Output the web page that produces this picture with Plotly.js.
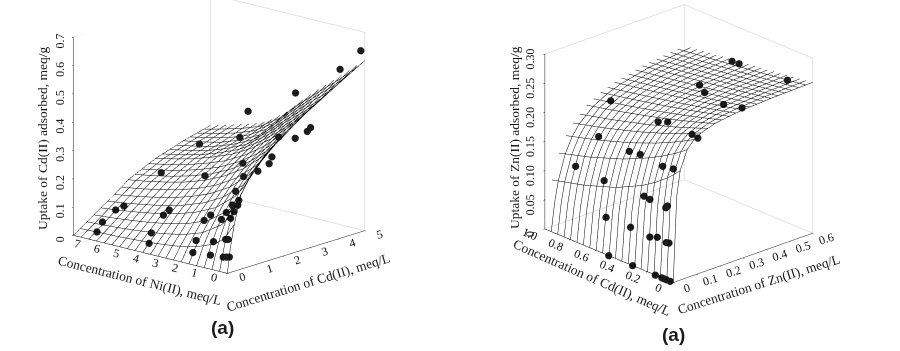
<!DOCTYPE html>
<html><head><meta charset="utf-8">
<script src="https://cdn.plot.ly/plotly-3.0.1.min.js"></script>
<style>html,body{margin:0;padding:0;background:#fff}#c{width:900px;height:351px}</style>
</head><body><div id="c"></div>
<script>
// Panel 1: Cd(II) uptake surface
const cdA=[0,.1,.25,.5,1,1.5,2,3,4,5];
const niA=[0,.5,1,2,3,4,5,6,7,8];
const zA=[ // rows by cdA, columns by niA
[0,0,0,0,0,0,0,0,0,0],
[.08,.046,.032,.02,.0145,.0114,.0094,.008,.007,.006],
[.165,.107,.079,.052,.038,.03,.025,.021,.019,.016],
[.265,.182,.139,.094,.071,.057,.048,.041,.036,.032],
[.34,.271,.225,.168,.135,.112,.096,.084,.074,.066],
[.385,.33,.285,.225,.185,.158,.137,.122,.109,.098],
[.42,.376,.335,.275,.232,.2,.177,.16,.146,.135],
[.49,.447,.412,.35,.3,.262,.235,.212,.195,.18],
[.545,.505,.47,.415,.355,.3,.265,.24,.225,.212],
[.6,.57,.54,.48,.42,.35,.3,.275,.255,.236]];
const ptCdA=[4.855,4.1,3.19,2.17,1.87,1.82,1.85,2.02,1.27,1.3,.65,2.22,2.61,3.05,3.17,1.76,1.66,1.25,.77,.73,.53,.59,.67,.47,.49,.81,.57,1.43,1.22,1.2,.9,.42,.22,.07,.13,.28,.16,.2,.09,.29,.38,.13,.11,.14];
const ptNiA=[0,0,1,2,2,4,6,4,1,1,.5,.5,.2,.2,.2,.2,.2,.2,.5,.5,.5,.5,1,.5,1,2,2,5,5,7,7,7,7,4,4.2,2,2,1,1,.5,.5,.4,.2,.1];
const ptZA=[.64,.597,.524,.473,.39,.334,.198,.216,.334,.286,.262,.406,.395,.406,.416,.355,.334,.32,.226,.21,.217,.192,.178,.172,.159,.148,.136,.096,.084,.083,.078,.05,.021,.073,.031,.074,.035,.089,.045,.103,.1,.047,.051,.052];
// Panel 2: Zn(II) uptake surface
const znB=[0,.015,.03,.06,.09,.12,.18,.24,.3,.42,.6];
const cdB=[0,.05,.1,.2,.3,.5,.75,1];
const zB=[ // rows by cdB, columns by znB
[0,.1456,.1877,.2194,.2325,.2396,.2472,.2512,.2537,.2565,.2587],
[0,.1322,.1761,.2112,.2262,.2345,.2434,.2482,.2511,.2546,.2572],
[0,.1211,.1658,.2034,.2201,.2294,.2397,.2451,.2485,.2525,.2556],
[0,.1038,.1487,.1898,.209,.2202,.2326,.2394,.2436,.2486,.2526],
[0,.0905,.1345,.1776,.1988,.2114,.2258,.2337,.2388,.2448,.2495],
[0,.0721,.1128,.1573,.181,.1958,.2133,.2232,.2297,.2375,.2437],
[0,.0573,.0938,.1375,.1627,.1792,.1994,.2113,.2191,.2288,.2367],
[0,.0474,.0799,.1217,.1474,.1648,.1868,.2002,.2092,.2205,.2298]];
const ptZnB=[.546,.529,.559,.389,.411,.327,.406,.283,.211,.252,.191,.216,.231,.142,.189,.132,.12,.166,.089,.04,.065,.03,.023,.042,.037,.037,.014,.025,.009,0,0,0,0,0,0,0];
const ptCdB=[.1,.5,.5,.5,.5,.2,.2,1,.5,.5,.2,.2,1,.6,.6,1,.3,.3,.7,.3,.3,.1,.1,.6,.4,.25,.15,.1,.05,.503,.317,.14,.09,.074,.053,.024];
const ptZB=[.261,.259,.2506,.238,.222,.241,.224,.18,.2,.194,.209,.199,.126,.15,.138,.089,.155,.144,.098,.115,.106,.118,.116,.051,.053,.05,.062,.056,.062,0,0,0,0,0,0,0];
const xTitleA='Concentration of Cd(II), meq/L', yTitleA='Concentration of Ni(II), meq/L', zTitleA='Uptake of Cd(II) adsorbed, meq/g';
const xTitleB='Concentration of Zn(II), meq/L', yTitleB='Concentration of Cd(II), meq/L', zTitleB='Uptake of Zn(II) adsorbed, meq/g';
const panelLabel='(a)';

const ink='#1a1a1a', serif='"Liberation Serif",serif';
function transpose(m){return m[0].map((_,j)=>m.map(r=>r[j]));}
function surf(scene,x,y,z,sx,sy){return {type:'surface',scene,x,y,z,hidesurface:true,showscale:false,hoverinfo:'skip',
  contours:{x:{show:true,start:sx[0],end:sx[1],size:sx[2],color:'#000',width:1,highlight:false},
            y:{show:true,start:sy[0],end:sy[1],size:sy[2],color:'#000',width:1,highlight:false},
            z:{show:false,highlight:false}}};}
function dots(scene,x,y,z){return {type:'scatter3d',mode:'markers',scene,x,y,z,hoverinfo:'skip',
  marker:{size:4.2,color:'#1c1c1c',line:{width:0}}};}
function frame(scene,X,Y,Z){
  return {type:'scatter3d',mode:'lines',scene,hoverinfo:'skip',line:{color:'#dcdcdc',width:1.5},
   x:[0,X,X,X,null,X,X,null,0,X,X],
   y:[Y,Y,0,0,null,Y,Y,null,Y,Y,0],
   z:[Z,Z,Z,0,null,0,Z,null,0,0,0]};}
function ax(range,tickvals,ticktext,angle){return {range,tickvals,ticktext,autorange:false,tickmode:'array',tickangle:angle,
  title:{text:''},tickfont:{family:serif,size:12,color:ink},
  showgrid:false,zeroline:false,showbackground:false,showspikes:false,showline:true,linecolor:ink,linewidth:1,
  ticks:'outside',ticklen:2,tickcolor:ink};}
function mkScene(domain,xa,ya,za,dir,k,c){
  return {domain,xaxis:xa,yaxis:ya,zaxis:za,aspectmode:'manual',aspectratio:{x:k,y:k,z:k},
   camera:{projection:{type:'orthographic'},up:{x:0,y:0,z:1},center:{x:c[0],y:c[1],z:c[2]},
     eye:{x:c[0]+dir[0]*2,y:c[1]+dir[1]*2,z:c[2]+dir[2]*2}}};
}
function note(text,px,py,angle,size){return {text,xref:'paper',yref:'paper',x:px/900,y:1-py/351,showarrow:false,textangle:angle,xanchor:'center',yanchor:'middle',
  font:{family:serif,size:size,color:ink}};}
function label(px,py){return {text:'<b>'+panelLabel+'</b>',xref:'paper',yref:'paper',x:px/900,y:1-py/351,xanchor:'center',yanchor:'middle',showarrow:false,font:{family:'"Liberation Sans",sans-serif',size:19,color:ink}};}
const data=[
 frame('scene',5,7.9,.7),
 surf('scene',cdA,niA,transpose(zA),[0,5,.25],[0,7.9,.395]),
 dots('scene',ptCdA,ptNiA,ptZA),
 frame('scene2',.6,1,.3),
 surf('scene2',znB,cdB,zB,[0,.6,.03],[0,1,.05]),
 dots('scene2',ptZnB,ptCdB,ptZB)
];
const layout={width:900,height:351,margin:{l:0,r:0,t:0,b:0},showlegend:false,paper_bgcolor:'#fff',
 scene:mkScene({x:[0,.5],y:[0,1]},
   ax([0,5],[0,1,2,3,4,5],['0','1','2','3','4','5'],-17),
   ax([0,7.9],[0,1,2,3,4,5,6,7],['0','1','2','3','4','5','6','7'],14),
   ax([0,.7],[0,.1,.2,.3,.4,.5,.6,.7],['0','0.1','0.2','0.3','0.4','0.5','0.6','0.7'],-90),
   [-.718,-.640,.277],1.176,[.0227,-.0255,-.247]),
 scene2:mkScene({x:[.5,1],y:[0,1]},
   ax([0,.6],[0,.1,.2,.3,.4,.5,.6],['0','0.1','0.2','0.3','0.4','0.5','0.6'],-17),
   ax([0,1],[0,.2,.4,.6,.8,1],['0','0.2','0.4','0.6','0.8','1.0'],22),
   ax([0,.3],[0,.05,.1,.15,.2,.25,.3],['0','0.05','0.10','0.15','0.20','0.25','0.30'],-90),
   [-.625,-.679,.384],1.08,[-.0158,.0146,-.197]),
 annotations:[
  note(yTitleA,140,280,14,13.5), note(xTitleA,308,282,-17,13.5), note(zTitleA,43,138,-90,13.5),
  note(yTitleB,592,277,23.8,13.5), note(xTitleB,758,284,-17.6,13.5), note(zTitleB,515,138,-90,13.5),
  label(222,327), label(673,334)
 ]};
Plotly.newPlot('c',data,layout,{displayModeBar:false});
</script></body></html>
